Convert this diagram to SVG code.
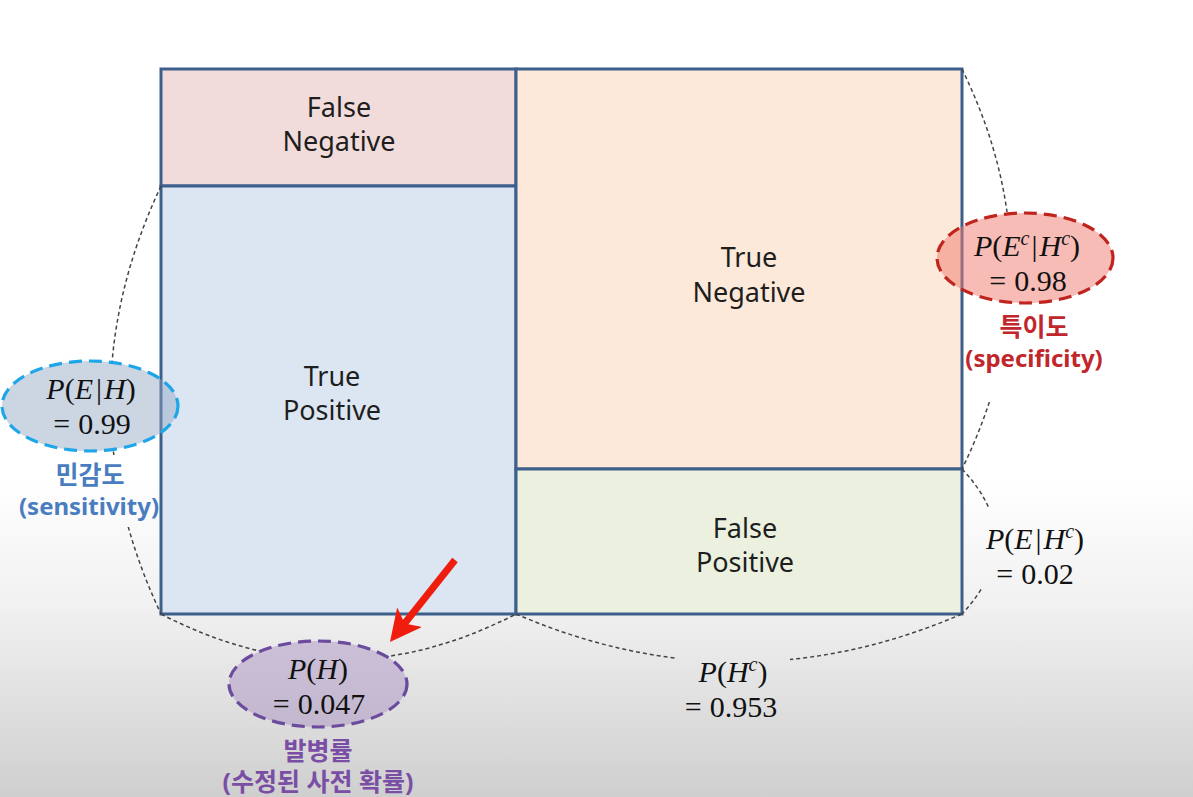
<svg xmlns="http://www.w3.org/2000/svg" width="1193" height="797" viewBox="0 0 1193 797">
<defs>
<linearGradient id="bg" x1="0" y1="0" x2="0" y2="1">
<stop offset="0" stop-color="#ffffff"/>
<stop offset="0.6" stop-color="#ffffff"/>
<stop offset="0.76" stop-color="#f1f1f1"/>
<stop offset="1" stop-color="#cfcfcf"/>
</linearGradient>
<marker id="arr" viewBox="0 0 10 10" refX="6.4" refY="5" markerWidth="4.5" markerHeight="4.5" orient="auto" markerUnits="strokeWidth">
<path d="M0,0 L10,5 L0,10 L2.5,5 Z" fill="#ee1d0e"/>
</marker>
<mask id="cm">
<rect x="0" y="0" width="1193" height="797" fill="#fff"/>
<ellipse cx="90" cy="406" rx="90" ry="47" fill="#000"/>
<rect x="15" y="455" width="150" height="72" fill="#000"/>
<ellipse cx="1025" cy="258" rx="90" ry="47" fill="#000"/>
<rect x="960" y="305" width="150" height="97" fill="#000"/>
<ellipse cx="318" cy="684" rx="91" ry="45" fill="#000"/>
<rect x="675" y="645" width="115" height="75" fill="#000"/>
<rect x="980" y="508" width="110" height="80" fill="#000"/>
</mask>
<style>
.box{stroke:#3d5f8c;stroke-width:3}
.lbl{font-family:"Noto Sans","Open Sans",sans-serif;font-size:27px;fill:#1e1e1e;text-anchor:middle}
.math{font-family:"Liberation Serif","DejaVu Serif",serif;font-size:30px;fill:#111;text-anchor:middle}
.it{font-style:italic}
.ko{font-family:"Noto Sans","Noto Sans CJK KR",sans-serif;font-weight:bold;font-size:24px;text-anchor:middle}
.kb{font-size:25px}
.ell{stroke-width:3.2;stroke-dasharray:13 7}
.conn{fill:none;stroke:#444;stroke-width:1.5;stroke-dasharray:4 3}
</style>
</defs>
<rect x="0" y="0" width="1193" height="797" fill="url(#bg)"/>

<g id="false-negative">
<rect class="box" x="161" y="69" width="355" height="117" fill="#f2dcdb"/>
<text class="lbl" x="339" y="117">False</text>
<text class="lbl" x="339" y="151">Negative</text>
</g>
<g id="true-positive">
<rect class="box" x="161" y="186" width="355" height="428" fill="#dce6f2"/>
<text class="lbl" x="332" y="386">True</text>
<text class="lbl" x="332" y="420">Positive</text>
</g>
<g id="true-negative">
<rect class="box" x="516" y="69" width="446" height="400" fill="#fde9d9"/>
<text class="lbl" x="749" y="267">True</text>
<text class="lbl" x="749" y="302">Negative</text>
</g>
<g id="false-positive">
<rect class="box" x="516" y="469" width="446" height="145" fill="#ebf1de"/>
<text class="lbl" x="745" y="538">False</text>
<text class="lbl" x="745" y="572">Positive</text>
</g>

<g id="connectors" mask="url(#cm)">
<path class="conn" d="M161,186 Q60,400 161,614"/>
<path class="conn" d="M161,614 Q338,706 516,614"/>
<path class="conn" d="M516,614 Q739,710 962,614"/>
<path class="conn" d="M962,69 Q1060,269 962,469"/>
<path class="conn" d="M962,469 Q1030,541 962,614"/>
</g>

<g id="sensitivity">
<ellipse class="ell" cx="90" cy="406" rx="88" ry="45" fill="#8ea3c0" fill-opacity="0.45" stroke="#1ea6e8"/>
<text class="math" x="91" y="399"><tspan class="it">P</tspan>(<tspan class="it">E</tspan><tspan dx="3">|</tspan><tspan class="it" dx="2">H</tspan>)</text>
<text class="math" x="92" y="434">=<tspan dx="8">0.99</tspan></text>
<text class="ko kb" x="90" y="484" fill="#4a7cc0">민감도</text>
<text class="ko" x="89" y="515" fill="#4a7cc0">(sensitivity)</text>
</g>

<g id="specificity">
<ellipse class="ell" cx="1025" cy="258" rx="88" ry="45" fill="#f27a6e" fill-opacity="0.5" stroke="#c0241f"/>
<text class="math" x="1027" y="256"><tspan class="it">P</tspan>(<tspan class="it">E</tspan><tspan class="it" font-size="20" dy="-11">c</tspan><tspan dy="11" dx="2">|</tspan><tspan class="it" dx="2">H</tspan><tspan class="it" font-size="20" dy="-11">c</tspan><tspan dy="11">)</tspan></text>
<text class="math" x="1028" y="291">=<tspan dx="8">0.98</tspan></text>
<text class="ko kb" x="1034" y="336" fill="#c0262b">특이도</text>
<text class="ko" x="1034" y="367" fill="#c0262b">(specificity)</text>
</g>

<g id="prior">
<ellipse class="ell" cx="318" cy="684" rx="89" ry="43" fill="#a48bbf" fill-opacity="0.45" stroke="#6b4b9d"/>
<text class="math" x="318" y="679"><tspan class="it">P</tspan>(<tspan class="it">H</tspan>)</text>
<text class="math" x="319" y="714">=<tspan dx="8">0.047</tspan></text>
<text class="ko kb" x="318" y="760" fill="#7a4ea4">발병률</text>
<text class="ko kb" x="318" y="791" fill="#7a4ea4">(수정된 사전 확률)</text>
</g>

<g id="p-not-h">
<text class="math" x="733" y="682"><tspan class="it">P</tspan>(<tspan class="it">H</tspan><tspan class="it" font-size="20" dy="-11">c</tspan><tspan dy="11">)</tspan></text>
<text class="math" x="731" y="717">=<tspan dx="8">0.953</tspan></text>
</g>

<g id="false-positive-rate">
<text class="math" x="1035" y="549"><tspan class="it">P</tspan>(<tspan class="it">E</tspan><tspan dx="3">|</tspan><tspan class="it" dx="2">H</tspan><tspan class="it" font-size="20" dy="-11">c</tspan><tspan dy="11">)</tspan></text>
<text class="math" x="1035" y="584">=<tspan dx="8">0.02</tspan></text>
</g>

<g id="arrow">
<line x1="455" y1="560" x2="397" y2="633" stroke="#ee1d0e" stroke-width="7" marker-end="url(#arr)"/>
</g>
</svg>
